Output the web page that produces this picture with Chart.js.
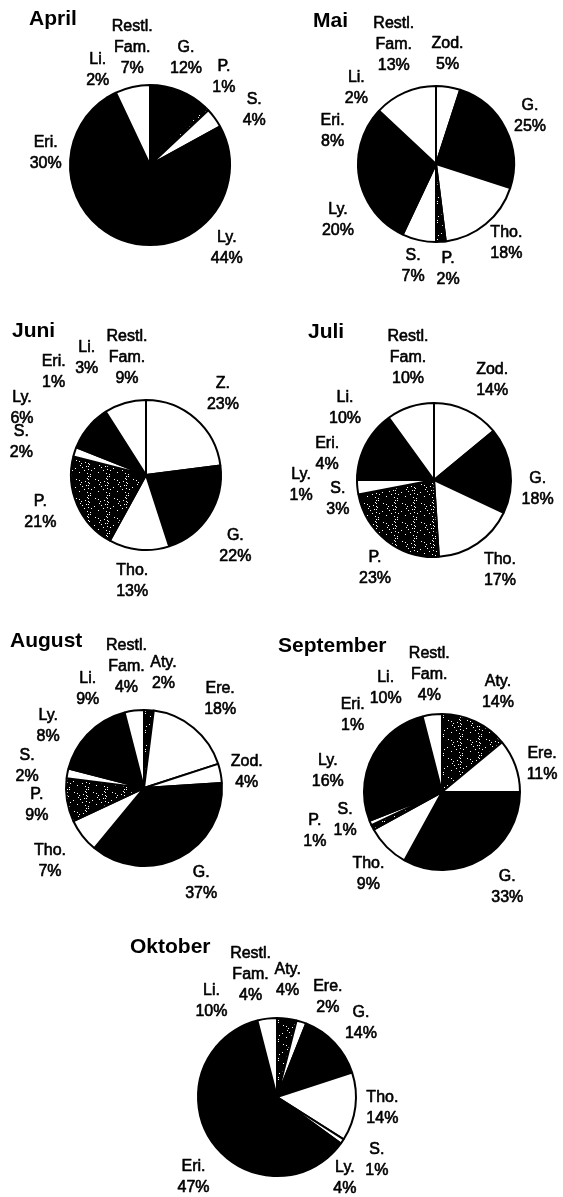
<!DOCTYPE html>
<html>
<head>
<meta charset="utf-8">
<script src="https://cdn.jsdelivr.net/npm/chart.js@4.4.1/dist/chart.umd.min.js"></script>
<style>
  html, body { margin: 0; padding: 0; background: #fff; }
  body { width: 563px; height: 1197px; position: relative; overflow: hidden; }
  canvas { position: absolute; }
  .ttl { position: absolute; font: bold 21px "Liberation Sans", Arial, sans-serif; line-height: 21px; color: #000; white-space: nowrap; }
</style>
</head>
<body>
<script>
// ---------------- DATA ----------------
const aprilCats = ['G.', 'P.', 'S.', 'Ly.', 'Eri.', 'Li.', 'Restl. Fam.'];
const aprilVals = [12, 1, 4, 44, 30, 2, 7];

const maiCats = ['Zod.', 'G.', 'Tho.', 'P.', 'S.', 'Ly.', 'Eri.', 'Li.', 'Restl. Fam.'];
const maiVals = [5, 25, 18, 2, 7, 20, 8, 2, 13];

const juniCats = ['Z.', 'G.', 'Tho.', 'P.', 'S.', 'Ly.', 'Eri.', 'Li.', 'Restl. Fam.'];
const juniVals = [23, 22, 13, 21, 2, 6, 1, 3, 9];

const juliCats = ['Zod.', 'G.', 'Tho.', 'P.', 'S.', 'Ly.', 'Eri.', 'Li.', 'Restl. Fam.'];
const juliVals = [14, 18, 17, 23, 3, 1, 4, 10, 10];

const augustCats = ['Aty.', 'Ere.', 'Zod.', 'G.', 'Tho.', 'P.', 'S.', 'Ly.', 'Li.', 'Restl. Fam.'];
const augustVals = [2, 18, 4, 37, 7, 9, 2, 8, 9, 4];

const septemberCats = ['Aty.', 'Ere.', 'G.', 'Tho.', 'P.', 'S.', 'Ly.', 'Eri.', 'Li.', 'Restl. Fam.'];
const septemberVals = [14, 11, 33, 9, 1, 1, 16, 1, 10, 4];

const oktoberCats = ['Aty.', 'Ere.', 'G.', 'Tho.', 'S.', 'Ly.', 'Eri.', 'Li.', 'Restl. Fam.'];
const oktoberVals = [4, 2, 14, 14, 1, 4, 47, 10, 4];

const monthTitles = ['April', 'Mai', 'Juni', 'Juli', 'August', 'September', 'Oktober'];

// ---------------- STYLE / LAYOUT ----------------
const fillByTaxon = {
  'G.': 'black', 'Ly.': 'black', 'Eri.': 'black', 'Li.': 'black',
  'S.': 'white', 'Tho.': 'white', 'Zod.': 'white', 'Z.': 'white', 'Ere.': 'white', 'Restl. Fam.': 'white',
  'P.': 'stipple', 'Aty.': 'stipple'
};

// pie centre, radius, title position (left, top)
const layout = [
  { c: [149.5, 165], r: 80, t: [29, 7] },
  { c: [436, 164], r: 78, t: [313, 9] },
  { c: [146, 475], r: 75, t: [12, 319] },
  { c: [434, 480], r: 77, t: [308, 320] },
  { c: [144, 788], r: 78, t: [10, 629] },
  { c: [442, 792], r: 78, t: [278, 634] },
  { c: [276.5, 1097], r: 79, t: [130, 935] }
];

// label nudges: [angle shift in degrees, gap beyond the pie edge in px]
const labelNudge = [
  [[-3,33],[-5,35],[8,38],[-3,33.5],[3,25],[0,28.5],[4,39]],
  [[-3,32.6],[0,27.5],[-2,28],[-3,27.7],[0,27],[-1,35],[-4,30.5],[4,32],[4,49]],
  [[2,37],[6,39],[2,32],[4,37],[-3,54],[-4,66],[3,63],[11,56.5],[7,44]],
  [[5,38.6],[12,27],[-2,34.6],[-4,29],[-6,21],[-4,56],[3,33],[3,37.5],[6,48]],
  [[6,38.6],[1,39],[2,26],[-4,33],[0,41],[0,30.5],[0,41],[4,36],[1,36],[-1,45]],
  [[4,36.6],[4,26],[-4,37],[-3,32],[10,55],[7,23],[3,38],[3,40],[4,40.5],[1,39.6]],
  [[-2,38.6],[9,33],[2,32.6],[-1,27],[-2,39],[7,27],[1,37],[-2,37],[-5,46]]
];

const allCats = [aprilCats, maiCats, juniCats, juliCats, augustCats, septemberCats, oktoberCats];
const allVals = [aprilVals, maiVals, juniVals, juliVals, augustVals, septemberVals, oktoberVals];

// stipple pattern: black with scattered white dots (fixed arrangement)
function makeStipple() {
  const pc = document.createElement('canvas');
  pc.width = 19; pc.height = 19;
  const g = pc.getContext('2d');
  g.fillStyle = '#000';
  g.fillRect(0, 0, 19, 19);
  g.fillStyle = '#fff';
  for (let i = 0; i < 19; i++) {
    for (let j = 0; j < 19; j++) {
      if ((i * 7 + j * 11 + (i * j) % 5) % 17 === 0) g.fillRect(i, j, 1, 1);
    }
  }
  return g.createPattern(pc, 'repeat');
}
const stipple = makeStipple();
function fillFor(name) {
  const f = fillByTaxon[name];
  return f === 'stipple' ? stipple : (f === 'white' ? '#ffffff' : '#000000');
}

const LABEL_FONT = '16px "Liberation Sans", Arial, sans-serif';
const LINE_H = 21;

const labelPlugin = {
  id: 'sliceLabels',
  afterDatasetsDraw(chart) {
    const idx = chart.options.plugins.sliceLabels.index;
    const nudges = labelNudge[idx];
    const meta = chart.getDatasetMeta(0);
    const ds = chart.data.datasets[0];
    const ctx = chart.ctx;
    ctx.save();
    ctx.font = LABEL_FONT;
    ctx.fillStyle = '#000';
    ctx.strokeStyle = '#000';
    ctx.lineWidth = 0.6;
    ctx.lineJoin = 'round';
    ctx.textAlign = 'center';
    ctx.textBaseline = 'middle';
    meta.data.forEach((arc, i) => {
      const p = arc.getProps(['startAngle', 'endAngle', 'x', 'y', 'outerRadius'], true);
      const n = nudges[i] || [0, 32];
      const a = (p.startAngle + p.endAngle) / 2 + n[0] * Math.PI / 180;
      const d = p.outerRadius + n[1];
      const x = p.x + Math.cos(a) * d;
      const y = p.y + Math.sin(a) * d;
      const lines = chart.data.labels[i].split(' ');
      lines.push(ds.data[i] + '%');
      const y0 = y - (lines.length - 1) * LINE_H / 2;
      lines.forEach((t, k) => {
        ctx.fillText(t, x, y0 + k * LINE_H);
        ctx.strokeText(t, x, y0 + k * LINE_H);
      });
    });
    ctx.restore();
  }
};

const W = 340, H = 340;
monthTitles.forEach((title, idx) => {
  const L = layout[idx];
  const cv = document.createElement('canvas');
  cv.width = W; cv.height = H;
  cv.style.width = W + 'px'; cv.style.height = H + 'px';
  cv.style.left = (L.c[0] - W / 2) + 'px';
  cv.style.top = (L.c[1] - H / 2) + 'px';
  document.body.appendChild(cv);

  const tt = document.createElement('div');
  tt.className = 'ttl';
  tt.textContent = title;
  tt.style.left = L.t[0] + 'px';
  tt.style.top = L.t[1] + 'px';
  document.body.appendChild(tt);

  const cats = allCats[idx];
  new Chart(cv, {
    type: 'pie',
    data: {
      labels: cats,
      datasets: [{
        data: allVals[idx],
        backgroundColor: cats.map(fillFor),
        borderColor: '#000',
        borderWidth: 2,
        hoverOffset: 0
      }]
    },
    options: {
      responsive: false,
      animation: false,
      radius: L.r,
      rotation: 0,
      layout: { padding: 0 },
      events: [],
      plugins: {
        legend: { display: false },
        tooltip: { enabled: false },
        title: { display: false },
        sliceLabels: { index: idx }
      }
    },
    plugins: [labelPlugin]
  });
});
</script>
</body>
</html>
